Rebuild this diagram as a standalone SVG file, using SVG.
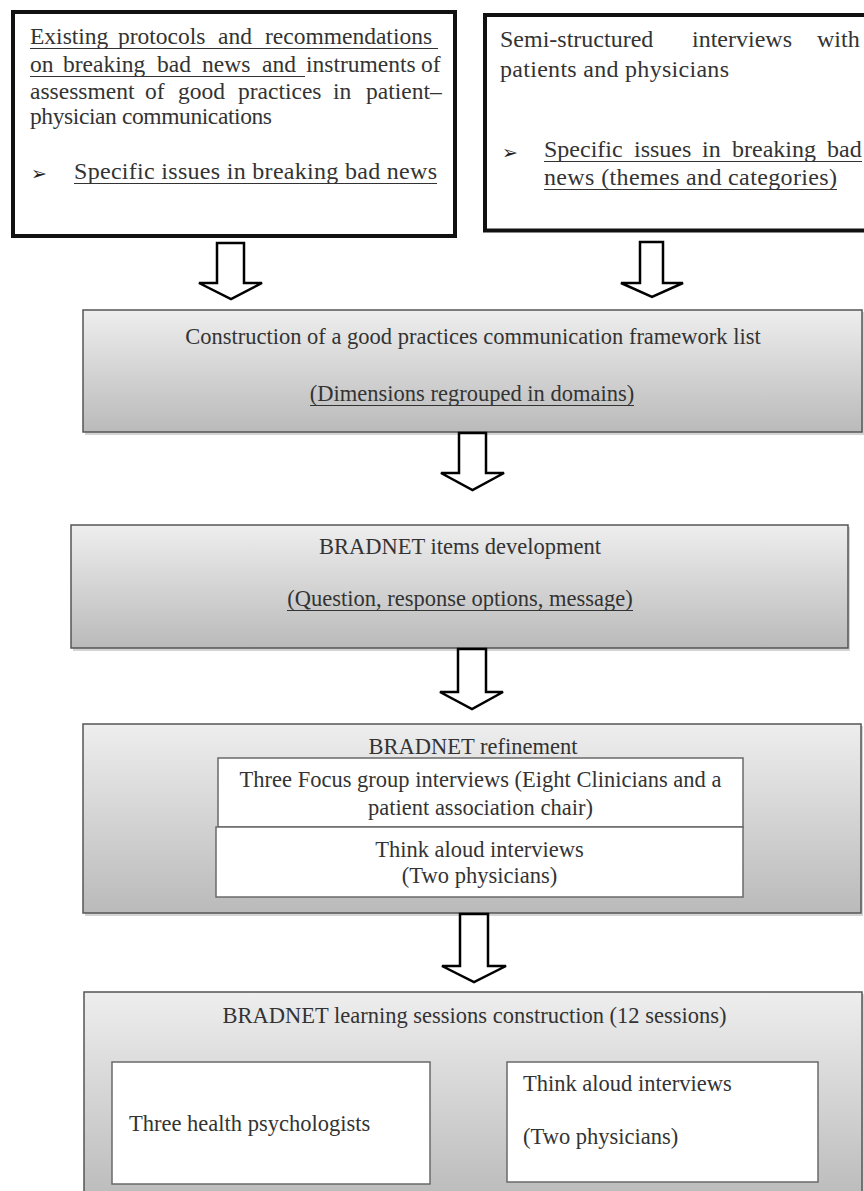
<svg xmlns="http://www.w3.org/2000/svg" width="864" height="1191" viewBox="0 0 864 1191">
<style>
.t{font-family:"Liberation Serif","Times New Roman",serif;fill:#333}
.top{font-size:24px}
.top1{font-size:23.5px}
.low{font-size:22.5px}
.mid{text-anchor:middle}
.blt{font-family:"DejaVu Sans",sans-serif;font-size:19px;fill:#222}
.thick{fill:#fff;stroke:#111;stroke-width:4}
.grad{fill:url(#g);stroke:#555;stroke-width:1.5}
.shadow{fill:#d4d4d4}
.inner{fill:#fff;stroke:#6a6a6a;stroke-width:1.5}
.arrow{fill:#fff;stroke:#000;stroke-width:2.5;stroke-linejoin:miter}
.ul{stroke:#333;stroke-width:1.2}
</style>
<defs>
<linearGradient id="g" x1="0" y1="0" x2="0" y2="1">
<stop offset="0" stop-color="#eeeeee"/>
<stop offset="1" stop-color="#bababa"/>
</linearGradient>
</defs>
<rect width="864" height="1191" fill="#fff"/>

<g id="node-existing-protocols">
<rect class="thick" x="13" y="12" width="442" height="224"/>
<text class="t top1" y="44"><tspan x="30">Existing</tspan><tspan x="118">protocols</tspan><tspan x="218">and</tspan><tspan x="265">recommendations</tspan></text>
<line class="ul" x1="30" y1="48.5" x2="438" y2="48.5"/>
<text class="t top1" y="72"><tspan x="30">on</tspan><tspan x="63">breaking</tspan><tspan x="157">bad</tspan><tspan x="202">news</tspan><tspan x="262">and</tspan><tspan x="306">instruments</tspan><tspan x="421">of</tspan></text>
<line class="ul" x1="30" y1="76.5" x2="305" y2="76.5"/>
<text class="t top1" y="99"><tspan x="30">assessment</tspan><tspan x="145">of</tspan><tspan x="178">good</tspan><tspan x="238">practices</tspan><tspan x="333">in</tspan><tspan x="366">patient–</tspan></text>
<text class="t top1" x="30" y="124" textLength="242" lengthAdjust="spacing">physician communications</text>
<text class="blt" x="31" y="180">➢</text>
<text class="t top" x="74" y="179" textLength="363" lengthAdjust="spacing">Specific issues in breaking bad news</text>
<line class="ul" x1="74" y1="183.5" x2="437" y2="183.5"/>
</g>

<g id="node-semi-structured">
<rect class="thick" x="485" y="15" width="385" height="215.5"/>
<text class="t top" y="47"><tspan x="500">Semi-structured</tspan><tspan x="692">interviews</tspan><tspan x="817">with</tspan></text>
<text class="t top" x="500" y="77" textLength="229" lengthAdjust="spacing">patients and physicians</text>
<text class="blt" x="502" y="159">➢</text>
<text class="t top" y="157"><tspan x="544">Specific</tspan><tspan x="634">issues</tspan><tspan x="702">in</tspan><tspan x="732">breaking</tspan><tspan x="827">bad</tspan></text>
<line class="ul" x1="544" y1="161.5" x2="862" y2="161.5"/>
<text class="t top" x="544" y="185" textLength="293" lengthAdjust="spacing">news (themes and categories)</text>
<line class="ul" x1="544" y1="189.5" x2="837" y2="189.5"/>
</g>

<g id="node-construction">
<rect class="shadow" x="85" y="312" width="779" height="123"/>
<rect class="grad" x="83" y="310" width="779" height="122"/>
<text class="t low mid" x="473" y="344">Construction of a good practices communication framework list</text>
<text class="t low mid" x="472" y="401">(Dimensions regrouped in domains)</text>
<line class="ul" x1="310" y1="405.5" x2="634" y2="405.5"/>
</g>

<g id="node-items-development">
<rect class="shadow" x="73" y="527" width="777" height="124"/>
<rect class="grad" x="71" y="525" width="777" height="123"/>
<text class="t low mid" x="460" y="554">BRADNET items development</text>
<text class="t low mid" x="460" y="606">(Question, response options, message)</text>
<line class="ul" x1="287" y1="610.5" x2="633" y2="610.5"/>
</g>

<g id="node-refinement">
<rect class="shadow" x="85" y="726" width="778" height="190"/>
<rect class="grad" x="83" y="724" width="778" height="189"/>
<text class="t low mid" x="473" y="754">BRADNET refinement</text>
<rect class="inner" x="218" y="758" width="525" height="69"/>
<text class="t low mid" x="480.5" y="787">Three Focus group interviews (Eight Clinicians and a</text>
<text class="t low mid" x="480.5" y="815">patient association chair)</text>
<rect class="inner" x="216" y="827" width="527" height="70"/>
<text class="t low mid" x="479.5" y="857">Think aloud interviews</text>
<text class="t low mid" x="479.5" y="883">(Two physicians)</text>
</g>

<g id="node-learning-sessions">
<rect class="shadow" x="86" y="994" width="778" height="212"/>
<rect class="grad" x="84" y="992" width="778" height="212"/>
<text class="t low mid" x="474.5" y="1023">BRADNET learning sessions construction (12 sessions)</text>
<rect class="inner" x="112" y="1062" width="318" height="122"/>
<text class="t low" x="129" y="1131">Three health psychologists</text>
<rect class="inner" x="507" y="1062" width="311" height="120"/>
<text class="t low" x="523" y="1091">Think aloud interviews</text>
<text class="t low" x="523" y="1144">(Two physicians)</text>
</g>

<g id="connectors">
<polygon class="arrow" points="217,243 244,243 244,283 262,283 231,299 199,283 217,283"/>
<polygon class="arrow" points="640,242 663,242 663,283 683,283 652,297 621,283 640,283"/>
<polygon class="arrow" points="459,433 486,433 486,473 504,473 472.5,490 441,473 459,473"/>
<polygon class="arrow" points="458,649 486,649 486,692 503,692 472,709 440,692 458,692"/>
<polygon class="arrow" points="460,914 488,914 488,966 506,966 474,982 442,966 460,966"/>
</g>
</svg>
